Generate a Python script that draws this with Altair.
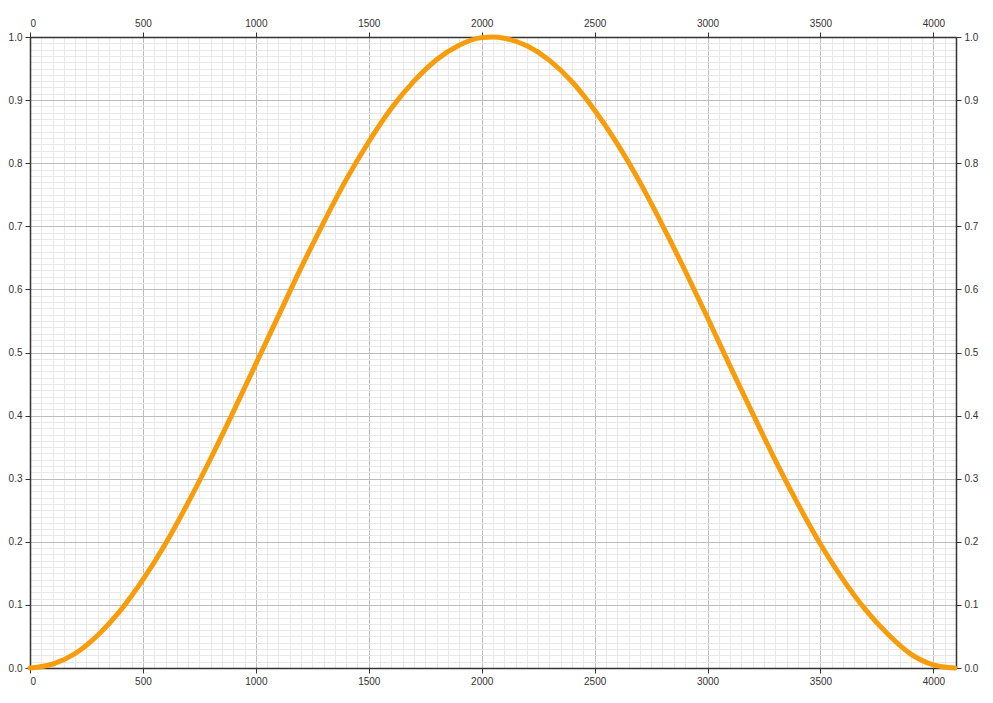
import altair as alt
import pandas as pd

# Sample index and window value
sample = [0, 100, 200, 300, 400, 500, 600, 700, 800, 900, 1000, 1100, 1200,
          1300, 1400, 1500, 1600, 1700, 1800, 1900, 2000, 2048, 2100, 2200,
          2300, 2400, 2500, 2600, 2700, 2800, 2900, 3000, 3100, 3200, 3300,
          3400, 3500, 3600, 3700, 3800, 3900, 4000, 4095]
value = [0.0, 0.006, 0.023, 0.052, 0.091, 0.140, 0.197, 0.262, 0.332, 0.406,
         0.482, 0.558, 0.634, 0.706, 0.774, 0.834, 0.887, 0.930, 0.964, 0.987,
         0.999, 1.0, 0.998, 0.986, 0.963, 0.929, 0.884, 0.831, 0.770, 0.702,
         0.630, 0.555, 0.478, 0.403, 0.329, 0.260, 0.196, 0.140, 0.092, 0.053,
         0.022, 0.005, 0.0]

df = pd.DataFrame({"n": sample, "w": value})

xs = alt.Scale(domain=[0, 4100], nice=False, zero=False)
ys = alt.Scale(domain=[0, 1], nice=False)

x_major = list(range(0, 4001, 500))
x_minor = list(range(0, 4101, 50))
y_major = [round(i * 0.1, 1) for i in range(11)]
y_minor = [round(i * 0.01, 2) for i in range(101)]

FONT = "Liberation Sans"
DARK = "#333333"

base = alt.Chart(df)

minor = base.mark_line(opacity=0).encode(
    x=alt.X("n:Q", scale=xs, title=None,
            axis=alt.Axis(orient="bottom", values=x_minor, grid=True,
                          gridColor="#e8e8e8", gridWidth=1, labels=False,
                          ticks=False, domain=False)),
    y=alt.Y("w:Q", scale=ys, title=None,
            axis=alt.Axis(orient="left", values=y_minor, grid=True,
                          gridColor="#e8e8e8", gridWidth=1, labels=False,
                          ticks=False, domain=False)),
)

major = base.mark_line(opacity=0).encode(
    x=alt.X("n:Q", scale=xs, title=None,
            axis=alt.Axis(orient="bottom", values=x_major, format="d", grid=True,
                          gridColor="#bdbdbd", gridWidth=1, labelFont=FONT,
                          labelFontSize=10, labelColor=DARK, tickColor=DARK,
                          tickSize=5, domainColor=DARK, domainWidth=1.5,
                          labelPadding=3)),
    y=alt.Y("w:Q", scale=ys, title=None,
            axis=alt.Axis(orient="left", values=y_major, format=".1f",
                          grid=True, gridColor="#bdbdbd", gridWidth=1,
                          labelFont=FONT, labelFontSize=10, labelColor=DARK,
                          tickColor=DARK, tickSize=5, domainColor=DARK,
                          domainWidth=1.5, labelPadding=3)),
)

mirror = base.mark_line(opacity=0).encode(
    x=alt.X("n:Q", scale=xs, title=None,
            axis=alt.Axis(orient="top", values=x_major, format="d", grid=False,
                          labelFont=FONT, labelFontSize=10, labelColor=DARK,
                          tickColor=DARK, tickSize=5, domainColor=DARK,
                          domainWidth=1.5, labelPadding=4)),
    y=alt.Y("w:Q", scale=ys, title=None,
            axis=alt.Axis(orient="right", values=y_major, format=".1f",
                          grid=False, labelFont=FONT, labelFontSize=10,
                          labelColor=DARK, tickColor=DARK, tickSize=5,
                          domainColor=DARK, domainWidth=1.5, labelPadding=3)),
)

curve = base.mark_line(color="#f79d0c", strokeWidth=5, interpolate="monotone",
                       strokeCap="round", strokeJoin="round").encode(
    x=alt.X("n:Q", scale=xs, axis=None),
    y=alt.Y("w:Q", scale=ys, axis=None),
)

chart = alt.layer(minor, major, mirror, curve).resolve_axis(
    x="independent", y="independent"
).properties(
    width=926, height=631,
    autosize=alt.AutoSizeParams(type="none"),
    padding={"left": 22, "top": 29, "right": 28, "bottom": 22},
).configure_view(stroke=None)

chart.save("out.html", embed_options={"renderer": "svg", "actions": False})
